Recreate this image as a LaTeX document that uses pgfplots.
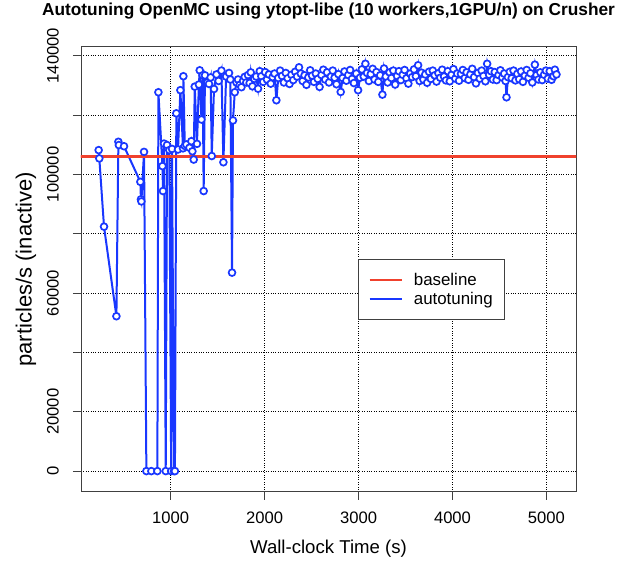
\documentclass[border=0pt]{standalone}
\usepackage{pgfplots}
\pgfplotsset{compat=1.18}
\usepackage{pgfplotstable}
\usepackage{fontspec}
\setmainfont{Liberation Sans}
\definecolor{rblue}{RGB}{25,55,255}
\definecolor{rred}{RGB}{240,65,45}
\pgfplotsset{
  rlegline/.style={legend image code/.code={\draw[##1] (0pt,0pt) -- (32pt,0pt);}},
}
\pgfplotstableread{
x y
233 108200
240 105400
290 82400
422 52200
443 111000
448 109900
503 109500
677 97500
683 91600
688 90900
716 107600
741 0
794 0
858 0
869 127700
912 102800
918 94400
929 110400
947 0
961 109900
985 108200
1005 0
1014 108600
1035 0
1045 0
1060 120600
1078 108400
1103 128400
1131 108800
1135 133100
1150 109600
1167 110100
1200 109000
1220 111200
1231 107800
1245 105000
1256 129600
1280 110300
1300 130300
1309 135100
1327 118500
1340 133400
1351 94400
1365 133400
1390 131000
1408 130500
1425 132700
1437 106200
1461 128800
1487 133700
1510 131500
1540 135000
1561 104100
1590 133000
1621 134200
1635 132000
1653 66900
1663 118200
1682 127700
1700 131000
1717 132000
1735 130200
1753 129400
1770 131500
1788 132900
1805 131000
1823 133500
1840 130800
1852 134400
1870 129700
1890 132200
1910 133000
1930 128900
1948 134800
1965 133100
1985 131200
2005 134500
2025 132000
2045 133700
2065 130600
2085 132800
2105 134000
2125 125000
2145 132500
2165 135000
2185 133200
2205 131000
2225 134200
2245 132400
2265 130500
2285 133600
2305 131800
2325 134600
2345 133000
2366 136100
2385 134000
2405 131500
2425 133400
2445 130200
2465 132700
2485 135100
2505 133300
2525 131200
2545 134000
2565 132200
2585 129500
2605 133500
2625 135300
2645 132000
2665 134400
2685 131000
2705 133000
2725 135000
2745 132600
2765 130400
2785 133800
2810 127800
2830 132500
2850 134700
2870 131600
2890 133500
2910 135200
2930 132200
2950 130800
2975 134000
2995 128400
3015 132600
3035 135400
3055 133000
3073 137300
3090 134200
3110 131500
3130 133800
3150 135600
3170 132000
3190 134500
3210 131200
3230 133400
3254 126900
3271 135700
3290 133000
3310 131000
3330 134400
3350 132500
3370 135000
3390 130300
3410 133200
3430 134800
3450 131800
3470 133600
3490 135200
3510 132400
3530 130600
3550 134000
3570 132800
3590 135400
3610 133100
3634 136800
3650 131500
3670 134300
3690 132000
3710 133700
3730 130900
3750 134600
3770 132200
3790 135000
3810 133400
3830 131300
3850 134100
3870 132600
3890 135300
3910 133000
3930 131700
3950 134800
3971 131400
3990 133600
4010 135500
4030 132300
4050 134000
4070 131600
4090 133900
4110 135200
4130 132500
4150 134400
4170 131900
4190 133700
4210 135600
4230 132800
4250 130700
4270 134200
4290 132300
4310 135000
4330 133200
4350 131400
4369 137300
4390 133600
4410 134800
4430 132000
4450 134500
4470 131800
4490 133500
4510 135100
4530 132700
4550 134000
4565 131500
4575 126000
4590 132800
4610 134600
4630 132400
4650 135000
4670 131700
4690 133900
4710 132100
4730 134700
4750 131200
4770 133300
4790 135200
4810 132600
4830 134100
4850 131000
4877 137000
4895 133500
4915 132000
4935 134400
4955 131800
4975 133600
4995 135000
5015 132300
5035 134800
5055 131900
5075 133100
5090 135300
5107 133700
}\autotune
\begin{document}
\begin{tikzpicture}
\begin{axis}[
  name=ax,
  width=495pt, height=445pt, scale only axis,
  xmin=45, xmax=5315, ymin=-7000, ymax=143000,
  scaled x ticks=false, scaled y ticks=false,
  axis line style={black!75, line width=0.9pt},
  xtick={1000,2000,3000,4000,5000},
  xticklabels={1000,2000,3000,4000,5000},
  ytick={0,20000,40000,60000,80000,100000,120000,140000},
  yticklabels={0,20000,,60000,,100000,,140000},
  tick align=outside, tick pos=left,
  major tick length=8pt,
  tick style={black!75, line width=0.9pt},
  grid=major,
  grid style={black, dotted, line width=0.9pt},
  ticklabel style={font=\fontsize{16.6}{18}\selectfont},
  xticklabel style={anchor=center, yshift=-18pt},
  yticklabel style={rotate=90, anchor=center, yshift=20pt},
  xlabel={Wall-clock Time (s)},
  ylabel={particles/s (inactive)},
  xlabel style={font=\fontsize{18.6}{20}\selectfont, at={(axis description cs:0.5,0)}, anchor=center, yshift=-57pt},
  ylabel style={font=\fontsize{22}{24}\selectfont, at={(axis description cs:0,0.5)}, anchor=center, yshift=55pt},
  title={Autotuning OpenMC using ytopt-libe (10 workers,1GPU/n) on Crusher},
  title style={font=\fontsize{17.3}{19}\bfseries, at={(axis description cs:0.5,1)}, anchor=base, yshift=25pt},
  legend style={at={(axis description cs:0.5596,0.5236)}, anchor=north west,
    draw=black!75, line width=0.9pt, font=\fontsize{16.9}{18}\selectfont,
    inner xsep=10pt, inner ysep=12pt, row sep=1pt, column sep=9pt},
  legend cell align=left,
  rlegline,
]
\addplot[rred, line width=2.4pt] coordinates {(0,106000) (6000,106000)};
\addlegendentry{baseline}
\addplot[rblue, line width=2pt, mark=*, mark size=3.4pt,
  mark options={solid, fill=white, draw=rblue, line width=1.7pt},
  legend image code/.code={\draw[rblue, line width=2pt] (0pt,0pt) -- (32pt,0pt);}] table[x=x,y=y] {\autotune};
\addlegendentry{autotuning}
\addplot[rred, line width=2.4pt, forget plot] coordinates {(0,106000) (6000,106000)};
\end{axis}
\path[use as bounding box] ([xshift=-81pt,yshift=-71pt]ax.south west) rectangle ([xshift=50pt,yshift=43pt]ax.north east);
\end{tikzpicture}
\end{document}
